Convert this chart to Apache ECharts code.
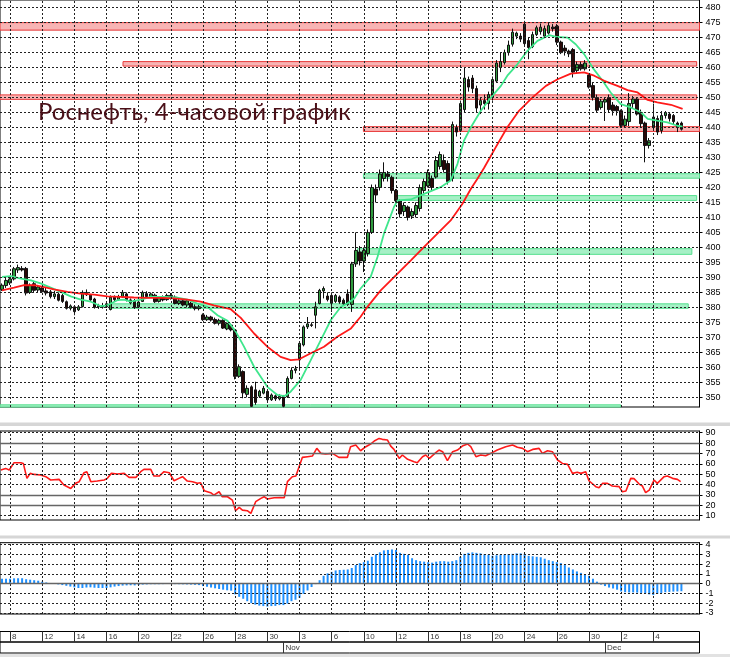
<!DOCTYPE html>
<html>
<head>
<meta charset="utf-8">
<style>html,body{margin:0;padding:0;background:#fff}#c{width:730px;height:657px}</style>
<script src="https://cdn.jsdelivr.net/npm/echarts@6/dist/echarts.min.js"></script>
</head>
<body>
<div id="c"></div>
<script>
const title = 'Роснефть, 4-часовой график';
const opens = [386.0,387.3,388.2,389.5,392.5,393.0,393.0,385.0,387.9,385.8, 386.5,385.5,385.2,383.6,384.4,384.0,381.9,379.7,380.2,379.2, 380.3,385.0,384.1,382.8,380.2,380.6,380.2,379.3,383.4,382.6, 383.5,384.5,382.5,382.3,380.2,382.0,384.6,383.6,384.1,382.0, 383.4,382.6,384.0,383.4,381.3,382.2,380.8,381.4,380.2,379.6, 377.5,375.9,376.8,376.0,374.7,375.7,372.8,374.1,372.4,357.0, 358.6,351.0,353.5,352.5,350.4,351.4,352.0,349.2,350.5,349.5, 350.3,350.2,356.3,359.0,362.5,367.5,373.5,374.2,377.4,381.3, 385.5,383.8,384.0,382.0,383.5,382.4,384.5,381.0,394.5,398.5, 395.5,398.0,405.0,419.5,420.0,423.0,424.5,423.4,419.0,415.5, 412.0,413.5,410.5,411.0,413.0,419.0,420.5,423.0,423.5,427.0, 429.0,428.0,423.0,440.0,439.0,446.0,456.0,456.5,453.0,447.5, 449.0,448.0,450.0,455.5,460.0,461.7,465.0,467.8,470.5,470.5, 474.5,469.0,467.0,471.0,472.0,470.5,471.5,473.5,473.8,468.5, 466.5,465.5,466.0,459.0,461.0,459.6,457.5,454.0,450.0,446.7, 448.5,450.0,447.5,447.0,445.6,440.7,442.0,448.0,449.5,445.0, 441.5,434.0,440.0,443.0,439.0,444.0,444.5,444.0,441.5,441.5];
const closes = [387.4,389.0,389.5,392.9,393.3,392.5,384.8,387.4,385.7,386.8, 385.2,384.8,383.6,384.5,382.4,382.0,379.7,380.5,378.6,380.2, 385.0,384.2,382.5,380.0,380.6,380.1,381.2,383.4,382.6,383.6, 385.0,382.6,381.5,380.0,381.8,385.0,383.6,384.5,381.9,383.3, 382.5,384.0,383.0,381.3,382.2,380.8,382.2,380.1,379.6,380.2, 375.9,376.8,375.8,374.7,375.7,373.1,374.6,372.5,357.0,360.2, 351.5,353.0,347.0,348.3,352.0,353.0,349.2,350.8,349.5,350.3, 347.0,356.3,359.0,359.5,368.0,373.5,374.5,374.0,380.2,385.7, 386.3,382.6,381.4,384.0,381.8,381.2,381.0,394.5,399.0,395.5, 399.0,405.0,420.0,417.5,424.5,425.0,423.7,419.0,415.6,411.2, 414.0,410.0,412.0,414.0,420.0,422.0,425.0,420.0,429.0,431.0, 426.0,422.0,441.0,438.5,448.0,456.5,453.5,453.0,446.5,449.0, 448.0,451.0,456.0,461.5,462.0,465.0,467.5,471.8,471.5,469.5, 468.0,466.7,471.0,473.3,473.5,473.0,474.0,473.0,468.5,465.0, 465.5,464.6,458.5,461.0,459.6,461.5,453.5,450.0,445.8,448.8, 449.3,446.0,445.6,445.6,440.7,442.8,448.0,449.5,444.5,441.3, 434.0,435.6,443.5,438.5,444.0,445.0,443.0,442.0,440.0,439.45];
const lows = [385.5,386.5,387.5,389.0,391.5,392.0,384.0,384.5,385.0,385.0, 384.8,384.0,383.0,382.8,382.0,381.5,379.3,379.0,377.4,378.8, 380.0,383.8,382.0,379.6,379.5,379.6,379.8,379.0,382.0,382.2, 383.2,382.0,381.0,379.5,379.8,381.8,383.0,383.2,381.5,381.6, 382.0,382.2,382.6,381.0,380.8,380.4,380.0,379.7,379.0,379.0, 375.5,375.5,375.3,374.3,374.0,372.8,372.4,372.0,356.0,356.5, 349.7,350.0,346.8,347.5,349.8,351.0,348.5,348.8,348.8,349.0, 346.7,349.8,356.0,358.0,359.0,367.0,372.8,373.5,373.0,381.0, 383.0,382.0,378.5,381.5,381.2,380.5,380.5,378.5,393.5,394.0, 391.8,397.0,404.5,415.0,419.0,422.0,422.0,418.0,414.0,410.0, 410.5,409.0,409.5,410.0,412.0,418.0,420.0,419.0,423.0,426.0, 425.0,421.0,422.0,437.0,438.5,445.0,452.0,451.5,445.0,444.5, 446.0,446.0,449.0,455.0,458.5,461.0,464.0,467.0,469.5,468.5, 467.5,462.8,466.5,470.5,471.0,470.0,471.0,472.0,467.5,464.5, 464.0,463.5,456.7,458.0,459.0,459.0,453.0,449.0,445.0,446.0, 442.2,445.0,444.0,444.0,440.0,440.0,440.5,446.5,444.0,440.0, 428.4,433.0,439.5,437.5,438.0,443.0,442.0,441.0,438.5,439.0];
const highs = [388.0,389.8,390.5,393.5,394.3,393.8,393.5,388.0,388.5,387.5, 387.0,386.5,385.8,385.5,385.0,384.5,382.3,381.0,380.6,380.8, 385.7,386.0,384.5,383.2,381.2,381.5,381.8,384.0,384.0,384.2, 385.8,385.0,383.0,382.8,382.4,385.6,385.4,385.0,384.6,383.8, 384.0,384.6,384.8,384.0,382.8,382.8,382.8,381.9,381.0,380.8, 378.0,377.5,377.2,376.6,376.2,376.0,375.0,374.6,372.8,361.0, 359.0,354.0,354.0,355.2,352.5,353.8,352.5,351.3,351.0,351.0, 350.8,357.0,360.0,360.5,368.5,374.0,376.8,375.0,381.9,386.2, 387.0,385.0,385.0,384.5,384.0,383.0,386.0,395.2,405.0,400.5, 400.0,406.0,421.0,421.0,426.0,428.4,425.5,424.0,419.5,416.0, 415.0,414.0,413.0,415.0,421.0,423.0,426.0,424.0,430.5,432.0, 431.0,429.0,442.0,441.0,449.0,460.0,457.0,457.5,454.0,450.0, 451.0,452.0,457.0,462.5,465.0,466.0,469.0,473.0,472.0,471.5, 475.6,470.0,472.0,474.0,474.7,474.0,475.0,474.5,474.5,469.0, 467.5,466.0,466.5,462.0,462.0,462.5,458.0,455.0,451.0,449.5, 450.0,451.0,448.5,447.5,446.0,444.0,451.5,450.5,450.0,446.0, 442.0,436.5,448.0,444.0,445.5,445.5,445.0,444.5,442.0,442.0];
const lastPriceLabel = '439,45';

const fastMA = [[0,390.2],[2.2,390.4],[4.7,389.6],[7.2,389.0],[9.6,388.0],[12.1,386.6],[14.6,385.2],[17.1,383.7],[19.6,382.6],[22.1,381.9],[24.6,380.4],[26.2,380.7],[28.7,382.4],[30.4,382.6],[32,381.9],[34.5,382.6],[37,383.5],[40.3,383.5],[43.6,383.3],[46.1,382.6],[48.6,381.3],[51.1,380.2],[53.6,377.4],[56.1,375.5],[58.1,372.0],[60.2,366.9],[62.7,360.2],[66,353.5],[68.5,350.8],[70.2,350.4],[71.8,351.9],[74.3,355.8],[76.8,362.4],[79.3,369.1],[81.8,375.8],[84.3,380.2],[85.9,381.3],[87.6,383.0],[89.2,386.3],[91.7,390.2],[93.4,396.8],[95,404.6],[97.5,413.5],[98.4,415.7],[101.7,416.0],[105,417.9],[109.1,420.1],[111.6,422.3],[113.3,427.9],[114.9,435.6],[116.6,440.0],[119.1,445.6],[121.6,450.0],[124.1,453.9],[125.7,457.3],[128.2,461.1],[130.7,465.6],[133.2,468.9],[136.1,470.8],[138.2,470.2],[140.7,470.0],[142.7,467.8],[144.8,464.5],[146.9,460.0],[149.4,455.6],[151.4,451.7],[153.9,447.8],[156.4,446.7],[158.9,445.1],[160.6,442.9],[163,442.3],[165.5,441.7],[168,440.6],[169.3,440.3]];
const slowMA = [[0,385.7],[3,386.6],[5.5,387.4],[8,387.4],[10.5,386.8],[12.9,386.0],[16.3,385.2],[19.6,384.6],[22.9,384.3],[26.2,383.7],[29.5,383.5],[32.8,383.3],[36.2,383.2],[39.5,383.2],[42.8,383.0],[46.1,382.6],[49.4,381.9],[52.7,380.7],[56.9,379.4],[59.4,376.5],[62.7,371.3],[66,366.9],[69.3,363.5],[71.8,362.4],[73.9,362.7],[76.8,364.7],[80.1,366.9],[83.4,370.2],[86.8,373.0],[89.2,376.9],[90.9,380.2],[94.2,385.7],[98.4,391.3],[101.7,395.7],[105,400.2],[108.3,404.6],[111.6,409.0],[114.5,414.5],[116.6,419.5],[118.3,423.0],[119.9,426.5],[122.8,433.4],[125.7,440.1],[128.6,445.6],[131.9,450.0],[135.3,453.9],[138.2,456.1],[141.5,458.0],[144.8,458.4],[147.3,457.3],[149.8,455.6],[153.1,453.9],[155.6,452.5],[158.1,451.7],[160.6,449.2],[163,448.4],[166.4,447.6],[169.3,446.2]];

const rsi = [[-0.3,54.0],[0.9,55.6],[1.8,54.0],[3.0,61.1],[4.7,61.1],[5.3,60.4],[6.2,46.0],[7.0,50.8],[8.0,49.8],[9.6,49.2],[10.9,47.6],[12.1,44.4],[14.2,45.0],[15.4,39.6],[17.1,36.3],[18.3,41.2],[19.2,42.8],[20.4,51.4],[21.1,52.4],[22.1,42.8],[23.7,43.4],[25.4,44.4],[26.2,46.0],[27.2,50.8],[28.7,50.2],[30.4,50.8],[31.6,46.9],[33.3,46.9],[34.5,52.4],[35.3,54.7],[37.0,54.7],[37.8,48.2],[39.1,48.2],[40.3,52.4],[41.6,51.4],[42.8,43.7],[44.0,46.0],[44.9,47.6],[46.1,43.4],[47.4,42.8],[48.6,41.2],[49.4,41.8],[50.3,34.1],[51.9,32.2],[52.7,29.9],[54.0,33.1],[54.8,28.3],[56.1,28.3],[57.3,25.1],[58.1,14.8],[59.0,18.0],[59.8,15.4],[61.0,14.8],[61.9,12.2],[63.1,23.5],[64.4,26.7],[65.2,28.3],[66.0,26.1],[67.7,27.3],[69.3,27.6],[70.2,27.3],[71.0,42.8],[72.2,47.6],[73.1,48.2],[74.7,66.2],[76.0,66.9],[77.2,67.5],[78.3,74.9],[79.3,70.1],[80.5,69.4],[82.2,70.1],[83.8,66.2],[85.9,66.2],[86.7,76.5],[88.0,78.1],[89.2,72.6],[90.5,76.5],[91.7,79.1],[92.6,82.0],[93.8,84.5],[94.6,83.6],[95.9,82.9],[96.7,77.1],[97.5,73.9],[98.8,65.3],[99.6,68.5],[100.9,64.3],[102.5,62.0],[103.3,61.1],[104.6,66.9],[105.4,68.5],[106.3,65.3],[107.9,70.7],[108.7,73.3],[109.6,71.7],[110.8,63.0],[112.1,71.7],[113.3,73.3],[114.5,77.1],[115.8,79.1],[116.6,76.5],[117.9,66.9],[119.1,68.5],[120.3,67.8],[121.6,70.1],[123.2,73.3],[125.3,76.5],[127.0,78.1],[128.2,75.9],[129.5,74.9],[130.7,71.7],[132.0,73.9],[133.6,74.9],[134.4,70.1],[135.7,72.6],[136.9,71.7],[138.2,63.7],[139.4,60.4],[140.7,59.5],[141.9,50.8],[143.1,51.8],[144.0,50.8],[145.2,52.4],[146.0,43.7],[147.7,38.0],[148.5,37.0],[149.4,41.2],[150.6,41.2],[151.8,38.6],[153.5,38.0],[154.3,33.1],[155.2,33.8],[156.4,46.0],[157.2,45.7],[158.5,40.5],[159.3,38.6],[160.1,32.2],[161.0,34.7],[162.2,44.4],[163.0,41.2],[164.7,47.6],[165.5,48.2],[166.8,46.0],[168.0,45.0],[168.8,42.8]];

const macd = [0.5,0.5,0.5,0.54,0.55,0.55,0.45,0.4,0.35,0.3, 0.2,0.12,0.05,0.0,-0.08,-0.15,-0.22,-0.3,-0.38,-0.45, -0.45,-0.4,-0.38,-0.42,-0.45,-0.45,-0.45,-0.38,-0.3,-0.25, -0.2,-0.18,-0.17,-0.18,-0.15,-0.1,-0.08,-0.06,-0.06,-0.06, -0.05,-0.04,-0.04,-0.05,-0.06,-0.07,-0.08,-0.1,-0.12,-0.15, -0.25,-0.32,-0.4,-0.48,-0.55,-0.62,-0.68,-0.72,-1.1,-1.35, -1.55,-1.8,-2.0,-2.15,-2.25,-2.3,-2.35,-2.3,-2.28,-2.2, -2.2,-2.05,-1.8,-1.65,-1.45,-1.05,-0.7,-0.35,-0.05,0.35, 0.8,1.05,1.2,1.35,1.4,1.42,1.45,1.6,1.9,2.1, 2.2,2.35,2.75,3.0,3.2,3.4,3.45,3.5,3.45,3.15, 3.05,2.95,2.6,2.4,2.3,2.25,2.2,2.15,2.25,2.3, 2.3,2.25,2.3,2.4,2.75,3.05,3.15,3.2,3.15,3.1, 3.0,2.95,2.85,2.9,2.95,2.98,3.02,3.05,3.1,3.1, 3.05,2.85,2.8,2.75,2.7,2.55,2.4,2.3,2.2,2.1, 1.9,1.65,1.45,1.25,1.1,0.95,0.8,0.5,0.2,-0.1, -0.25,-0.4,-0.5,-0.62,-0.8,-0.88,-0.9,-0.9,-0.92,-0.95, -1.0,-1.1,-1.17,-1.05,-0.95,-0.88,-0.85,-0.82,-0.8,-0.78];

const dateIdx = [2,10,18,26,34,42,50,58,66,74,82,90,98,106,114,122,130,138,146,154,162];
const dateLabels = ['8','12','14','16','20','22','26','28','30','3','6','10','12','16','18','20','24','26','30','2','4'];
const monthIdx = [70,150];
const monthLabels = ['Nov','Dec'];
const priceTicks = [350,355,360,365,370,375,380,385,390,395,400,405,410,415,420,425,430,435,440,445,450,455,460,465,470,475,480];
const rsiTicks = [10,20,30,40,50,60,70,80,90];
const rsiSolid = [20,30,70,80];
const rsiDotted = [10,40,50,60,90];
const macdTicks = [-3,-2,-1,0,1,2,3,4];
const macdDotted = [-3,-2,-1,1,2,3,4];
const macdSolid = [0];
// zones: [fromBar, toBar, low, high]
const redZones = [[-0.5,173.5,472.5,475.0],[30.1,172.8,460.5,462.0],[-0.5,172.8,449.4,450.9],[89.9,173.5,438.7,440.3]];
const greenZones = [[89.9,173.5,423.1,424.6],[98.0,172.8,415.7,417.3],[88.4,171.6,397.7,399.6],[26.6,170.7,379.7,381.2],[-0.5,153.9,346.7,347.5]];

const N = 174;
const cats = [];
for (let i = 0; i < N; i++) cats.push(String(i));
const candles = opens.map((o, i) => [o, closes[i], lows[i], highs[i]]);

const chart = echarts.init(document.getElementById('c'), null, {renderer: 'canvas'});
const L = -1, W = 700.5;
const dotted = {color: '#222', type: [2, 2], width: 1};
const solidGray = {color: '#666', type: 'solid', width: 1.4};

function gridLines(xs, ysDotted, ysSolid) {
  const d = [];
  xs.forEach(v => d.push({xAxis: v, lineStyle: dotted}));
  ysDotted.forEach(v => d.push({yAxis: v, lineStyle: dotted}));
  (ysSolid || []).forEach(v => d.push({yAxis: v, lineStyle: solidGray}));
  return {silent: true, symbol: ['none', 'none'], label: {show: false}, animation: false, data: d};
}
function zoneItems(zones, fill, border) {
  return zones.map(z => [
    {xAxis: z[0], yAxis: z[2], itemStyle: {color: fill, borderColor: border, borderWidth: 1}},
    {xAxis: z[1], yAxis: z[3]}
  ]);
}
const axisFont = {color: '#000', fontSize: 9, fontFamily: 'Liberation Sans', margin: 6};
function rightAxis(gi, min, max, ticks) {
  return {
    type: 'value', gridIndex: gi, min: min, max: max, position: 'right',
    axisLine: {show: true, onZero: false, lineStyle: {color: '#000', width: 1}},
    axisTick: {show: true, length: 3, customValues: ticks, lineStyle: {color: '#000'}},
    axisLabel: Object.assign({customValues: ticks}, axisFont),
    splitLine: {show: false}
  };
}
const vx = gi => ({type: 'value', gridIndex: gi, min: -0.5, max: N - 0.5, show: false});

const option = {
  animation: false,
  backgroundColor: '#fff',
  grid: [
    {left: L, width: W, top: -1, height: 408},
    {left: L, width: W, top: 431, height: 89},
    {left: L, width: W, top: 542.7, height: 71.3},
    {left: L, width: W, top: 631.5, height: 10.5},
    {left: L, width: W, top: 642, height: 11}
  ].map(g => Object.assign({show: true, borderColor: '#000', borderWidth: 1, backgroundColor: 'transparent'}, g)),
  xAxis: [
    {type: 'category', gridIndex: 0, data: cats, show: false, boundaryGap: true},
    vx(0), vx(1), vx(2), vx(3), vx(4)
  ],
  yAxis: [
    rightAxis(0, 346.78, 482.55, priceTicks),
    rightAxis(1, 5.86, 91.64, rsiTicks),
    rightAxis(2, -3.11, 4.19, macdTicks),
    {type: 'value', gridIndex: 3, min: 0, max: 1, show: false},
    {type: 'value', gridIndex: 4, min: 0, max: 1, show: false}
  ],
  graphic: [
    {type: 'rect', shape: {x: 0, y: 422.5, width: 730, height: 3.5}, style: {fill: '#d6d6d6'}, silent: true},
    {type: 'rect', shape: {x: 0, y: 535.5, width: 730, height: 3}, style: {fill: '#d6d6d6'}, silent: true},
    {type: 'rect', shape: {x: 0, y: 654, width: 730, height: 3}, style: {fill: '#e2e2e2'}, silent: true},
    {type: 'text', left: 38, top: 100, z: 100, style: {text: title, font: '24px Lato', fill: '#4a0f17'}, silent: true}
  ],
  series: [
    {type: 'line', xAxisIndex: 1, yAxisIndex: 0, data: [], z: 1,
      markArea: {silent: true, data: zoneItems(redZones, '#f8b4b4', '#e83a3a').concat(zoneItems(greenZones, '#a6f0c6', '#55df8e'))}},
    {type: 'line', xAxisIndex: 1, yAxisIndex: 0, data: [], z: 2, markLine: gridLines(dateIdx, priceTicks)},
    {type: 'candlestick', xAxisIndex: 0, yAxisIndex: 0, data: candles, barWidth: 3, z: 3,
      itemStyle: {color: '#2f9a3e', color0: '#2a0808', borderColor: '#101010', borderColor0: '#101010', borderWidth: 1},
      markLine: {silent: true, symbol: ['none', 'none'], data: [{yAxis: closes[closes.length - 1]}],
        lineStyle: {opacity: 0},
        label: {show: true, position: 'end', distance: 4, formatter: lastPriceLabel, color: '#000', fontSize: 9,
          fontFamily: 'Liberation Sans', backgroundColor: '#fff', borderColor: '#000', borderWidth: 1, padding: [1, 2, 0, 2]}}},
    {type: 'line', xAxisIndex: 1, yAxisIndex: 0, data: fastMA, showSymbol: false, z: 4,
      lineStyle: {color: '#3fe68c', width: 1.8}},
    {type: 'line', xAxisIndex: 1, yAxisIndex: 0, data: slowMA, showSymbol: false, z: 4,
      lineStyle: {color: '#ff1a1a', width: 1.8}},
    {type: 'line', xAxisIndex: 2, yAxisIndex: 1, data: [], z: 2, markLine: gridLines(dateIdx, rsiDotted, rsiSolid)},
    {type: 'line', xAxisIndex: 2, yAxisIndex: 1, data: rsi, showSymbol: false, z: 4,
      lineStyle: {color: '#ff1a1a', width: 1.6}},
    {type: 'line', xAxisIndex: 3, yAxisIndex: 2, data: [], z: 2, markLine: gridLines(dateIdx, macdDotted, macdSolid)},
    {type: 'bar', xAxisIndex: 3, yAxisIndex: 2, data: macd.map((v, i) => [i, v]), barWidth: 2, z: 4,
      itemStyle: {color: '#1e90ff'}},
    {type: 'scatter', xAxisIndex: 4, yAxisIndex: 3, symbolSize: 0.1, itemStyle: {color: 'rgba(0,0,0,0)'},
      data: dateIdx.map((d, k) => [d, 0.5, dateLabels[k]]),
      label: {show: true, position: 'right', distance: 2, formatter: p => p.data[2], color: '#000', fontSize: 8, fontFamily: 'Liberation Sans'},
      markLine: {silent: true, symbol: ['none', 'none'], label: {show: false}, lineStyle: {color: '#333', type: 'solid', width: 1},
        data: dateIdx.map(d => ({xAxis: d}))}},
    {type: 'scatter', xAxisIndex: 5, yAxisIndex: 4, symbolSize: 0.1, itemStyle: {color: 'rgba(0,0,0,0)'},
      data: monthIdx.map((d, k) => [d, 0.5, monthLabels[k]]),
      label: {show: true, position: 'right', distance: 2, formatter: p => p.data[2], color: '#000', fontSize: 8, fontFamily: 'Liberation Sans'},
      markLine: {silent: true, symbol: ['none', 'none'], label: {show: false}, lineStyle: {color: '#333', type: 'solid', width: 1},
        data: monthIdx.map(d => ({xAxis: d}))}}
  ]
};
chart.setOption(option);
</script>
</body>
</html>
